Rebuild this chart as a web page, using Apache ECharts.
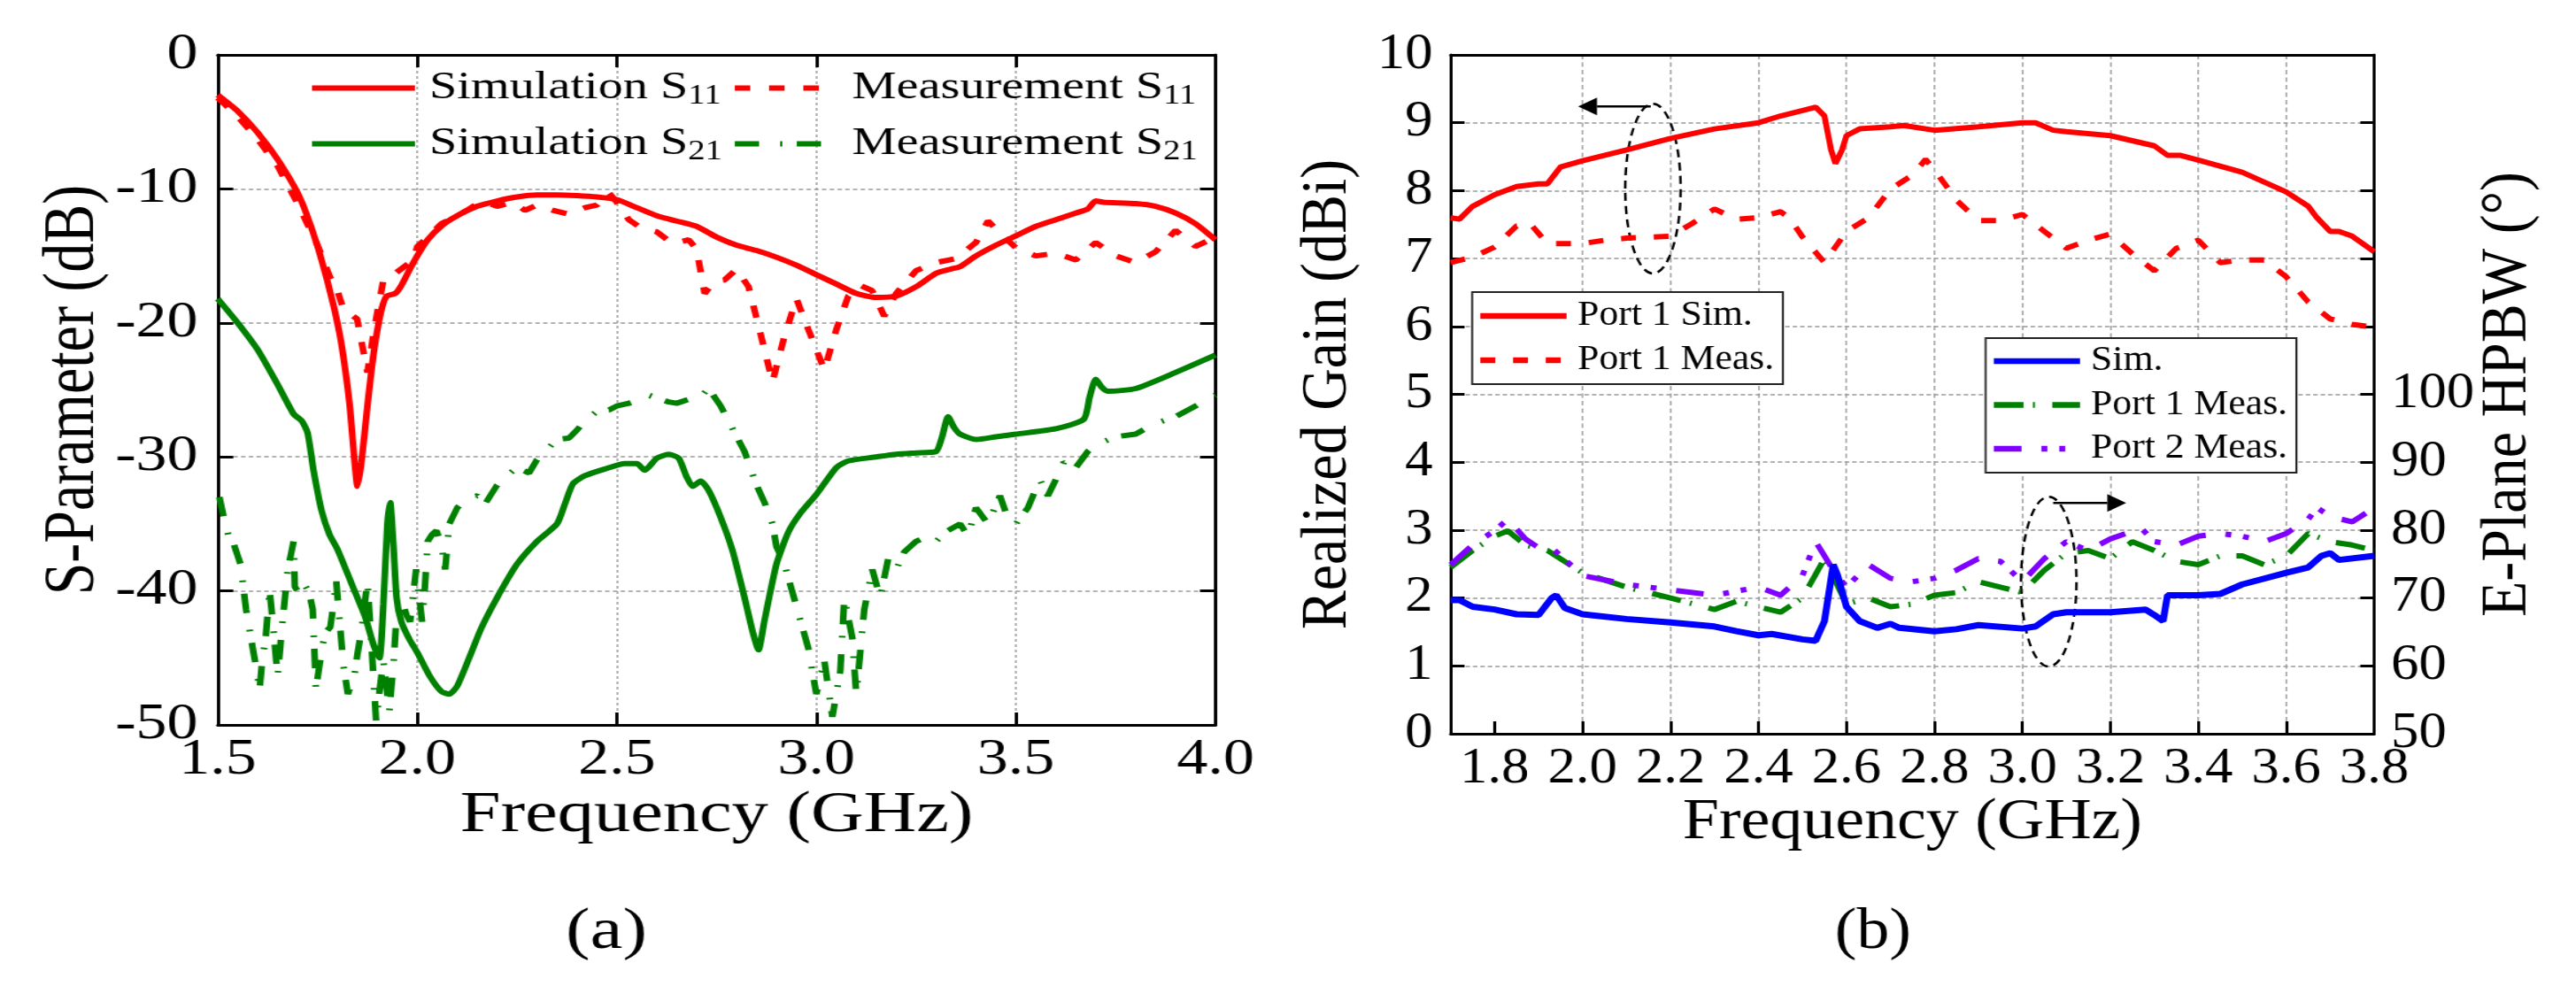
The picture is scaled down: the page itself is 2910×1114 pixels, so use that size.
<!DOCTYPE html>
<html>

<head>
    <meta charset="utf-8">
    <script src="https://cdn.jsdelivr.net/npm/echarts@6/dist/echarts.min.js"></script>
    <title>S-Parameter and Realized Gain</title>
    <style>
        html, body { margin: 0; padding: 0; background: #fff; overflow: hidden; }
        /* the two panels of the original figure are stretched sideways by different amounts */
        #left { position: absolute; left: 0; top: 0; width: 1164px; height: 1114px; transform: scaleX(1.25); transform-origin: 0 0; }
        #right { position: absolute; left: 1455px; top: 0; width: 1299px; height: 1114px; transform: scaleX(1.12); transform-origin: 0 0; }
    </style>
</head>

<body>
    <div id="left"></div>
    <div id="right"></div>
    <script type="text/javascript">
        // ---------- data, panel (a) : [GHz, dB] ----------
        var s11Sim = [[1.5, -3.0], [1.55, -4.2], [1.6, -5.8], [1.65, -7.8], [1.7, -10.3], [1.73, -12.5], [1.76, -15.3], [1.79, -18.7],
            [1.81, -21.6], [1.83, -26], [1.843, -30.4], [1.85, -32.2], [1.86, -30.4], [1.875, -26.2], [1.89, -22.4], [1.908, -19.3],
            [1.923, -18], [1.945, -17.8], [1.96, -17.2], [1.99, -15.5], [2.026, -13.8], [2.063, -12.7], [2.1, -12.0], [2.15, -11.3],
            [2.2, -10.9], [2.25, -10.6], [2.3, -10.45], [2.35, -10.45], [2.4, -10.5], [2.45, -10.6], [2.5, -10.8], [2.55, -11.4],
            [2.6, -12], [2.65, -12.4], [2.7, -12.8], [2.75, -13.6], [2.8, -14.2], [2.85, -14.6], [2.9, -15.1], [2.95, -15.7],
            [3.0, -16.4], [3.05, -17.1], [3.1, -17.8], [3.15, -18.1], [3.2, -18], [3.25, -17.3], [3.3, -16.3], [3.335, -16.0],
            [3.36, -15.8], [3.4, -15], [3.45, -14.2], [3.5, -13.5], [3.55, -12.8], [3.6, -12.3], [3.65, -11.8], [3.68, -11.5],
            [3.7, -10.9], [3.72, -11], [3.8, -11.1], [3.85, -11.3], [3.9, -11.8], [3.95, -12.6], [4.0, -13.8]];

        var s11Meas = [[1.5, -3.2], [1.55, -4.6], [1.6, -6.3], [1.65, -8.3], [1.7, -11.1], [1.75, -14.2], [1.78, -16.5], [1.8, -17.6],
            [1.815, -19], [1.849, -19.7], [1.864, -22], [1.875, -23.7], [1.893, -20.3], [1.915, -16.8], [1.945, -16.3], [1.99, -15.3],
            [2.0, -14.3], [2.03, -13.5], [2.06, -12.6], [2.1, -12], [2.13, -11.5], [2.16, -10.9], [2.2, -11.3], [2.24, -11],
            [2.27, -11.6], [2.3, -11.2], [2.34, -11.6], [2.38, -11.9], [2.42, -11.4], [2.45, -11.2], [2.48, -10.3], [2.5, -11],
            [2.53, -12.3], [2.56, -12.9], [2.6, -13.2], [2.64, -14.1], [2.68, -13.8], [2.7, -14.5], [2.72, -17.8], [2.745, -16.9],
            [2.77, -16.8], [2.8, -16], [2.83, -17.3], [2.86, -20.8], [2.89, -24.4], [2.92, -21], [2.95, -18.2], [2.98, -20.5],
            [3.02, -23.5], [3.05, -20.5], [3.08, -18], [3.11, -17.2], [3.14, -17.6], [3.17, -19.5], [3.2, -17.8], [3.25, -16.1],
            [3.3, -15.5], [3.35, -15.2], [3.4, -14], [3.43, -12.4], [3.46, -13.3], [3.5, -14.4], [3.55, -15], [3.6, -14.8],
            [3.65, -15.3], [3.7, -14], [3.75, -15], [3.8, -15.5], [3.85, -14.7], [3.9, -13.1], [3.95, -14.3], [4.0, -13.6]];

        var s21Sim = [[1.5, -18.2], [1.55, -20], [1.6, -22], [1.65, -24.6], [1.69, -26.8], [1.71, -27.3], [1.725, -28.2], [1.74, -31],
            [1.76, -34], [1.78, -35.8], [1.8, -36.9], [1.84, -39.8], [1.87, -42], [1.89, -44], [1.905, -45], [1.915, -41],
            [1.925, -35], [1.932, -33.4], [1.94, -36.5], [1.948, -40.5], [1.96, -42.3], [1.98, -43.6], [2.0, -44.6], [2.03, -46.3],
            [2.06, -47.5], [2.08, -47.7], [2.1, -47.1], [2.13, -45], [2.16, -42.8], [2.2, -40.5], [2.25, -38], [2.3, -36.3],
            [2.35, -35], [2.37, -33.5], [2.39, -32], [2.42, -31.4], [2.47, -30.9], [2.52, -30.5], [2.55, -30.5], [2.57, -31],
            [2.6, -30.1], [2.63, -29.8], [2.655, -30.1], [2.675, -31.5], [2.69, -32.2], [2.71, -31.8], [2.73, -32.5], [2.76, -34.5],
            [2.79, -37], [2.82, -40.5], [2.84, -43], [2.855, -44.4], [2.87, -42.2], [2.9, -38], [2.93, -35.6], [2.96, -34.2],
            [3.0, -32.8], [3.05, -30.8], [3.08, -30.3], [3.15, -30], [3.2, -29.8], [3.25, -29.7], [3.3, -29.6], [3.315, -28.5],
            [3.33, -27], [3.345, -27.8], [3.36, -28.3], [3.4, -28.7], [3.45, -28.5], [3.5, -28.3], [3.6, -27.9], [3.67, -27.2],
            [3.685, -25.5], [3.7, -24.2], [3.715, -24.8], [3.73, -25.1], [3.8, -24.9], [3.9, -23.7], [4.0, -22.4]];

        var s21Meas = [[1.504, -33], [1.515, -34.5], [1.527, -35.9], [1.54, -36.5], [1.557, -38], [1.571, -41.4], [1.583, -43.5],
            [1.595, -45.5], [1.605, -47.3], [1.612, -45], [1.62, -43.5], [1.63, -40], [1.64, -43], [1.65, -46.4], [1.66, -43],
            [1.675, -38.5], [1.69, -36.3], [1.693, -39.7], [1.705, -40.2], [1.716, -39.5], [1.728, -40], [1.738, -41.4],
            [1.746, -47.3], [1.755, -45.5], [1.764, -43.9], [1.773, -43], [1.782, -42.7], [1.79, -41], [1.797, -39.3],
            [1.806, -42.5], [1.815, -45.6], [1.826, -47.7], [1.834, -47], [1.842, -46.4], [1.85, -44.7], [1.86, -43],
            [1.868, -41], [1.875, -39.3], [1.883, -43], [1.89, -46.4], [1.897, -49.8], [1.905, -47.5], [1.915, -45.2],
            [1.922, -47], [1.93, -49], [1.935, -47.2], [1.94, -45.6], [1.948, -41.8], [1.956, -41.5], [1.964, -41],
            [1.973, -41.8], [1.982, -42.3], [1.99, -40.2], [1.997, -38.4], [2.005, -40.5], [2.012, -42.3], [2.019, -39.7],
            [2.026, -36.3], [2.037, -35.8], [2.048, -35.5], [2.06, -36.5], [2.07, -38.4], [2.08, -35], [2.1, -33.8],
            [2.12, -33.2], [2.15, -32.9], [2.17, -33.5], [2.2, -32.1], [2.22, -31.5], [2.25, -30.8], [2.28, -31.2], [2.3, -30.2],
            [2.33, -29.3], [2.35, -28.7], [2.38, -28.6], [2.4, -28], [2.42, -27.3], [2.45, -26.6], [2.48, -26.5], [2.5, -26.2],
            [2.53, -26], [2.55, -25.8], [2.58, -25.4], [2.6, -25.6], [2.63, -25.9], [2.65, -26], [2.68, -25.7], [2.7, -25.8],
            [2.73, -24.9], [2.76, -26.2], [2.79, -27.9], [2.82, -29.6], [2.85, -32.1], [2.87, -33.4], [2.89, -35], [2.9, -36.7],
            [2.92, -38], [2.94, -40.1], [2.96, -42.2], [2.98, -44.3], [3.0, -47.7], [3.02, -45.2], [3.04, -49.4], [3.06, -46],
            [3.07, -40.5], [3.09, -43.5], [3.1, -47.7], [3.12, -41.4], [3.14, -38.4], [3.16, -40.5], [3.18, -37.6], [3.2, -38.4],
            [3.22, -37.1], [3.25, -36.3], [3.28, -35.9], [3.3, -36.3], [3.33, -35.5], [3.36, -35], [3.38, -35.9], [3.4, -33.8],
            [3.43, -35], [3.46, -32.9], [3.48, -34.6], [3.5, -35], [3.53, -33.8], [3.56, -31.7], [3.58, -32.9], [3.6, -31.7],
            [3.62, -30.4], [3.65, -30.8], [3.68, -29.6], [3.7, -29.1], [3.75, -28.5], [3.8, -28.3], [3.85, -27.5], [3.9, -27],
            [3.95, -26.2], [4.0, -25.4]];

        // ---------- data, panel (b) : gain [GHz, dBi], HPBW [GHz, deg] ----------
        var gainSim = [[1.7, 7.6], [1.72, 7.58], [1.75, 7.77], [1.8, 7.94], [1.85, 8.06], [1.9, 8.1], [1.92, 8.1], [1.95, 8.35],
            [2.0, 8.44], [2.1, 8.6], [2.2, 8.77], [2.3, 8.91], [2.4, 9.0], [2.45, 9.1], [2.5, 9.18], [2.53, 9.23], [2.55, 9.1],
            [2.565, 8.6], [2.575, 8.4], [2.59, 8.6], [2.6, 8.81], [2.63, 8.91], [2.7, 8.94], [2.73, 8.96], [2.8, 8.89],
            [2.9, 8.94], [3.0, 9.0], [3.03, 9.0], [3.07, 8.89], [3.1, 8.87], [3.2, 8.81], [3.3, 8.66], [3.33, 8.52], [3.36, 8.52],
            [3.4, 8.45], [3.5, 8.27], [3.6, 7.98], [3.65, 7.77], [3.67, 7.6], [3.7, 7.4], [3.72, 7.4], [3.75, 7.33], [3.8, 7.1]];

        var gainMeas = [[1.7, 6.94], [1.75, 7.02], [1.8, 7.17], [1.85, 7.48], [1.88, 7.52], [1.92, 7.22], [2.0, 7.22], [2.05, 7.27],
            [2.1, 7.3], [2.2, 7.33], [2.25, 7.52], [2.3, 7.73], [2.35, 7.58], [2.4, 7.6], [2.45, 7.69], [2.47, 7.6], [2.5, 7.32],
            [2.55, 6.94], [2.6, 7.4], [2.65, 7.6], [2.7, 8.02], [2.75, 8.23], [2.78, 8.46], [2.8, 8.31], [2.85, 7.86], [2.9, 7.56],
            [2.95, 7.56], [3.0, 7.65], [3.05, 7.4], [3.1, 7.15], [3.15, 7.27], [3.2, 7.36], [3.25, 7.07], [3.3, 6.82], [3.35, 7.15],
            [3.4, 7.27], [3.45, 6.94], [3.5, 6.98], [3.55, 6.98], [3.6, 6.73], [3.65, 6.36], [3.7, 6.11], [3.75, 6.03], [3.8, 5.99]];

        var hpbwSim = [[1.7, 69.7], [1.72, 69.7], [1.75, 68.7], [1.8, 68.3], [1.85, 67.6], [1.9, 67.5], [1.93, 70], [1.94, 70.4],
            [1.96, 68.5], [2.0, 67.6], [2.1, 66.9], [2.2, 66.4], [2.3, 65.8], [2.35, 65.1], [2.4, 64.5], [2.43, 64.7], [2.5, 63.9],
            [2.53, 63.7], [2.55, 66.6], [2.57, 74.9], [2.58, 73.3], [2.6, 68.7], [2.63, 66.6], [2.67, 65.6], [2.7, 66.2],
            [2.72, 65.6], [2.8, 65.1], [2.85, 65.4], [2.9, 66], [3.0, 65.5], [3.03, 65.8], [3.07, 67.6], [3.1, 67.9], [3.2, 67.9],
            [3.28, 68.3], [3.3, 67.5], [3.32, 66.6], [3.33, 70.4], [3.4, 70.4], [3.45, 70.6], [3.5, 72], [3.6, 73.7], [3.65, 74.5],
            [3.68, 76.2], [3.7, 76.6], [3.72, 75.6], [3.8, 76.2]];

        var hpbwMeas1 = [[1.7, 74.5], [1.75, 77], [1.8, 79.1], [1.83, 79.9], [1.87, 77.8], [1.92, 77], [2.0, 73.7], [2.1, 71.6],
            [2.2, 70], [2.3, 68.3], [2.35, 69.5], [2.4, 68.7], [2.45, 67.9], [2.5, 70], [2.55, 75.8], [2.6, 69.1], [2.65, 70],
            [2.7, 68.7], [2.75, 69.1], [2.8, 70.4], [2.85, 70.8], [2.9, 72.4], [2.95, 71.6], [3.0, 70.8], [3.05, 74.1], [3.1, 76.6],
            [3.15, 77], [3.2, 75.8], [3.25, 78.3], [3.3, 77], [3.35, 75.4], [3.4, 74.9], [3.45, 76.2], [3.5, 76.2], [3.55, 74.9],
            [3.6, 76.2], [3.65, 79.5], [3.7, 78.3], [3.75, 77.8], [3.8, 77]];

        var hpbwMeas2 = [[1.7, 74.9], [1.75, 77.8], [1.8, 79.9], [1.83, 81.6], [1.87, 78.7], [1.9, 77.4], [1.93, 77.4], [2.0, 73.3],
            [2.1, 72], [2.2, 71.2], [2.3, 70.4], [2.4, 71.6], [2.45, 70.4], [2.5, 73.3], [2.53, 78.3], [2.57, 74.1], [2.6, 71.6],
            [2.65, 74.9], [2.7, 72.9], [2.75, 72.4], [2.8, 72.9], [2.85, 74.1], [2.9, 75.8], [2.95, 75.4], [3.0, 72.4], [3.05, 75.8],
            [3.1, 78.3], [3.15, 77], [3.2, 78.7], [3.27, 80.3], [3.3, 78.3], [3.35, 77.8], [3.4, 79.1], [3.45, 79.5], [3.5, 79.1],
            [3.55, 78.3], [3.6, 79.5], [3.65, 81.6], [3.67, 83.3], [3.7, 82], [3.75, 81.2], [3.8, 83.3]];

        // dashed ellipses [centre GHz, centre dBi, half width GHz, half height dBi] and arrows [from GHz, dBi, to GHz]
        var ellipses = [[2.16, 8.03, 0.063, 1.25], [3.06, 2.24, 0.063, 1.25]];
        var arrows = [[2.155, 9.24, 1.99], [3.07, 3.40, 3.236]];

        var freqTicksB = [1.8, 2.0, 2.2, 2.4, 2.6, 2.8, 3.0, 3.2, 3.4, 3.6, 3.8];

        var FONT = '"Liberation Serif", "Times New Roman", serif';
        var RED = '#ff0000', GREEN = '#008000', BLUE = '#0000ff', PURPLE = '#8000ff';

        function axisBase(extra) {
            var base = {
                type: 'value',
                nameMoveOverlap: false,
                axisLine: { show: true, onZero: false, lineStyle: { color: '#000', width: 3 } },
                axisTick: { show: true, inside: true, length: 14, lineStyle: { color: '#000', width: 3 } },
                axisLabel: { fontSize: 56, color: '#000', fontFamily: FONT },
                splitLine: { show: false },
                nameTextStyle: { fontSize: 66, color: '#000', fontFamily: FONT }
            };
            for (var k in extra) {
                if (extra.hasOwnProperty(k)) {
                    if (typeof extra[k] === 'object' && !Array.isArray(extra[k]) && base[k]) {
                        base[k] = Object.assign({}, base[k], extra[k]);
                    } else {
                        base[k] = extra[k];
                    }
                }
            }
            return base;
        }

        function lineSeries(name, data, color, width, dash, xi, yi, smooth) {
            return {
                name: name,
                type: 'line',
                data: data,
                xAxisIndex: xi,
                yAxisIndex: yi,
                symbol: 'none',
                showSymbol: false,
                smooth: smooth || false,
                silent: true,
                lineStyle: { color: color, width: width, type: dash || 'solid', cap: 'butt' },
                itemStyle: { color: color }
            };
        }

        // legend marker: only the line, the symbol in its middle is made invisible
        var hiddenSymbol = { color: 'rgba(0,0,0,0)', borderWidth: 0, opacity: 0 };

        // ---------- panel (a) ----------
        function legendA(name, left, top) {
            return {
                data: [name],
                left: left,
                top: top,
                padding: 0,
                itemWidth: 93,
                itemHeight: 14,
                selectedMode: false,
                itemStyle: hiddenSymbol,
                lineStyle: { width: 6 },
                formatter: function (n) {
                    var p = n.split(' S');
                    return '{m|' + p[0] + ' S}{s|' + p[1] + '}';
                },
                textStyle: {
                    rich: {
                        m: { fontSize: 45, lineHeight: 50, padding: [0, 0, 0, 8], fontFamily: FONT, color: '#000' },
                        s: { fontSize: 31, lineHeight: 26, verticalAlign: 'bottom', fontFamily: FONT, color: '#000' }
                    }
                }
            };
        }

        var chartA = echarts.init(document.getElementById('left'));
        chartA.setOption({
            animation: false,
            textStyle: { fontFamily: FONT, color: '#000' },
            grid: { left: 196.8, top: 62, width: 901.6, height: 757 },
            xAxis: [axisBase({
                min: 1.5, max: 4.0, interval: 0.5, position: 'bottom',
                axisLabel: { margin: 12, formatter: function (v) { return v.toFixed(1); } },
                splitLine: { show: true, showMinLine: false, showMaxLine: false, lineStyle: { color: '#999', width: 1.5, type: [3, 3] } },
                name: 'Frequency (GHz)', nameLocation: 'middle', nameGap: 70
            }), axisBase({
                min: 1.5, max: 4.0, interval: 0.5, position: 'top',
                axisLabel: { show: false }
            })],
            yAxis: [axisBase({
                min: -50, max: 0, interval: 10, position: 'left',
                axisLabel: { margin: 18 },
                splitLine: { show: true, showMinLine: false, showMaxLine: false, lineStyle: { color: '#999', width: 1.5, type: [4, 3] } },
                name: 'S-Parameter (dB)', nameLocation: 'middle', nameRotate: 90, nameGap: 97
            }), axisBase({
                min: -50, max: 0, interval: 10, position: 'right',
                axisLabel: { show: false }
            })],
            legend: [
                legendA('Simulation S11', 279, 77),
                legendA('Measurement S11', 661, 77),
                legendA('Simulation S21', 279, 140),
                legendA('Measurement S21', 661, 140)
            ],
            graphic: [{
                type: 'text', x: 548, y: 1054,
                style: { text: '(a)', fontSize: 66, fontFamily: FONT, fill: '#000', align: 'center', verticalAlign: 'middle' }
            }],
            series: [
                lineSeries('Measurement S21', s21Meas, GREEN, 6, [22, 19, 2, 13], 0, 0),
                lineSeries('Simulation S21', s21Sim, GREEN, 6, 'solid', 0, 0, 0.2),
                lineSeries('Measurement S11', s11Meas, RED, 6, [14, 17], 0, 0),
                lineSeries('Simulation S11', s11Sim, RED, 6, 'solid', 0, 0, 0.2)
            ]
        });

        // ---------- panel (b) ----------
        var chartB = echarts.init(document.getElementById('right'));
        var legendBoxB = {
            orient: 'vertical',
            itemWidth: 87,
            itemHeight: 14,
            borderColor: '#222',
            borderWidth: 2,
            backgroundColor: '#fff',
            selectedMode: false,
            itemStyle: hiddenSymbol,
            lineStyle: { width: 6.5 },
            formatter: function (n) { return n.replace(' (HPBW)', ''); },
            textStyle: { fontSize: 39, lineHeight: 40, padding: [0, 0, 0, 6], fontFamily: FONT, color: '#000' }
        };

        chartB.setOption({
            animation: false,
            textStyle: { fontFamily: FONT, color: '#000' },
            grid: { left: 156.25, top: 62, width: 939.3, height: 767 },
            xAxis: [axisBase({
                min: 1.7, max: 3.8, position: 'bottom',
                axisTick: { customValues: freqTicksB },
                axisLabel: { margin: 12, customValues: freqTicksB, formatter: function (v) { return v.toFixed(1); } },
                splitLine: { show: true, showMinLine: false, showMaxLine: false, lineStyle: { color: '#999', width: 1.5, type: [5, 3.5] } },
                name: 'Frequency (GHz)', nameLocation: 'middle', nameGap: 68
            }), axisBase({
                min: 1.7, max: 3.8, position: 'top',
                axisTick: { show: false },
                axisLabel: { show: false }
            })],
            yAxis: [axisBase({
                min: 0, max: 10, interval: 1, position: 'left',
                axisLabel: { margin: 18 },
                splitLine: { show: true, showMinLine: false, showMaxLine: false, lineStyle: { color: '#999', width: 1.5, type: [4.5, 3] } },
                name: 'Realized Gain (dBi)', nameLocation: 'middle', nameRotate: 90, nameGap: 90
            }), axisBase({
                min: 50, max: 150, interval: 10, position: 'right',
                axisLabel: { margin: 17, formatter: function (v) { return v <= 100 ? String(v) : ''; } },
                name: 'E-Plane HPBW (°)', nameLocation: 'middle', nameRotate: 90, nameGap: 102
            })],
            legend: [
                Object.assign({}, legendBoxB, {
                    data: ['Port 1 Sim.', 'Port 1 Meas.'],
                    left: 185.7, top: 330, padding: [7, 9, 7, 5], itemGap: 10
                }),
                Object.assign({}, legendBoxB, {
                    data: ['Sim.', 'Port 1 Meas. (HPBW)', 'Port 2 Meas.'],
                    left: 703.6, top: 382, padding: [6, 9, 7, 5], itemGap: 9.5
                })
            ],
            graphic: [{
                type: 'text', x: 590, y: 1054,
                style: { text: '(b)', fontSize: 66, fontFamily: FONT, fill: '#000', align: 'center', verticalAlign: 'middle' }
            }],
            series: [
                lineSeries('Port 1 Meas. (HPBW)', hpbwMeas1, GREEN, 6, [30, 9.5, 2, 17.5], 0, 1),
                lineSeries('Port 2 Meas.', hpbwMeas2, PURPLE, 6, [28, 20, 6, 12, 6, 20], 0, 1),
                lineSeries('Sim.', hpbwSim, BLUE, 7, 'solid', 0, 1),
                lineSeries('Port 1 Meas.', gainMeas, RED, 6, [15, 18], 0, 0),
                lineSeries('Port 1 Sim.', gainSim, RED, 6, 'solid', 0, 0),
                {
                    type: 'custom',
                    xAxisIndex: 0,
                    yAxisIndex: 0,
                    silent: true,
                    data: ellipses,
                    renderItem: function (params, api) {
                        var c = api.coord([api.value(0), api.value(1)]);
                        var s = api.size([api.value(2), api.value(3)]);
                        return {
                            type: 'ellipse',
                            shape: { cx: c[0], cy: c[1], rx: s[0], ry: s[1] },
                            style: { fill: 'none', stroke: '#000', lineWidth: 2.5, lineDash: [9, 6] }
                        };
                    }
                },
                {
                    type: 'custom',
                    xAxisIndex: 0,
                    yAxisIndex: 0,
                    silent: true,
                    data: arrows,
                    renderItem: function (params, api) {
                        var p1 = api.coord([api.value(0), api.value(1)]);
                        var p2 = api.coord([api.value(2), api.value(1)]);
                        var dir = p2[0] > p1[0] ? 1 : -1;
                        var head = 19, half = 10;
                        return {
                            type: 'group',
                            children: [{
                                type: 'line',
                                shape: { x1: p1[0], y1: p1[1], x2: p2[0] - dir * head, y2: p2[1] },
                                style: { stroke: '#000', lineWidth: 2.5 }
                            }, {
                                type: 'polygon',
                                shape: { points: [[p2[0], p2[1]], [p2[0] - dir * head, p2[1] - half], [p2[0] - dir * head, p2[1] + half]] },
                                style: { fill: '#000' }
                            }]
                        };
                    }
                }
            ]
        });
    </script>
</body>

</html>
